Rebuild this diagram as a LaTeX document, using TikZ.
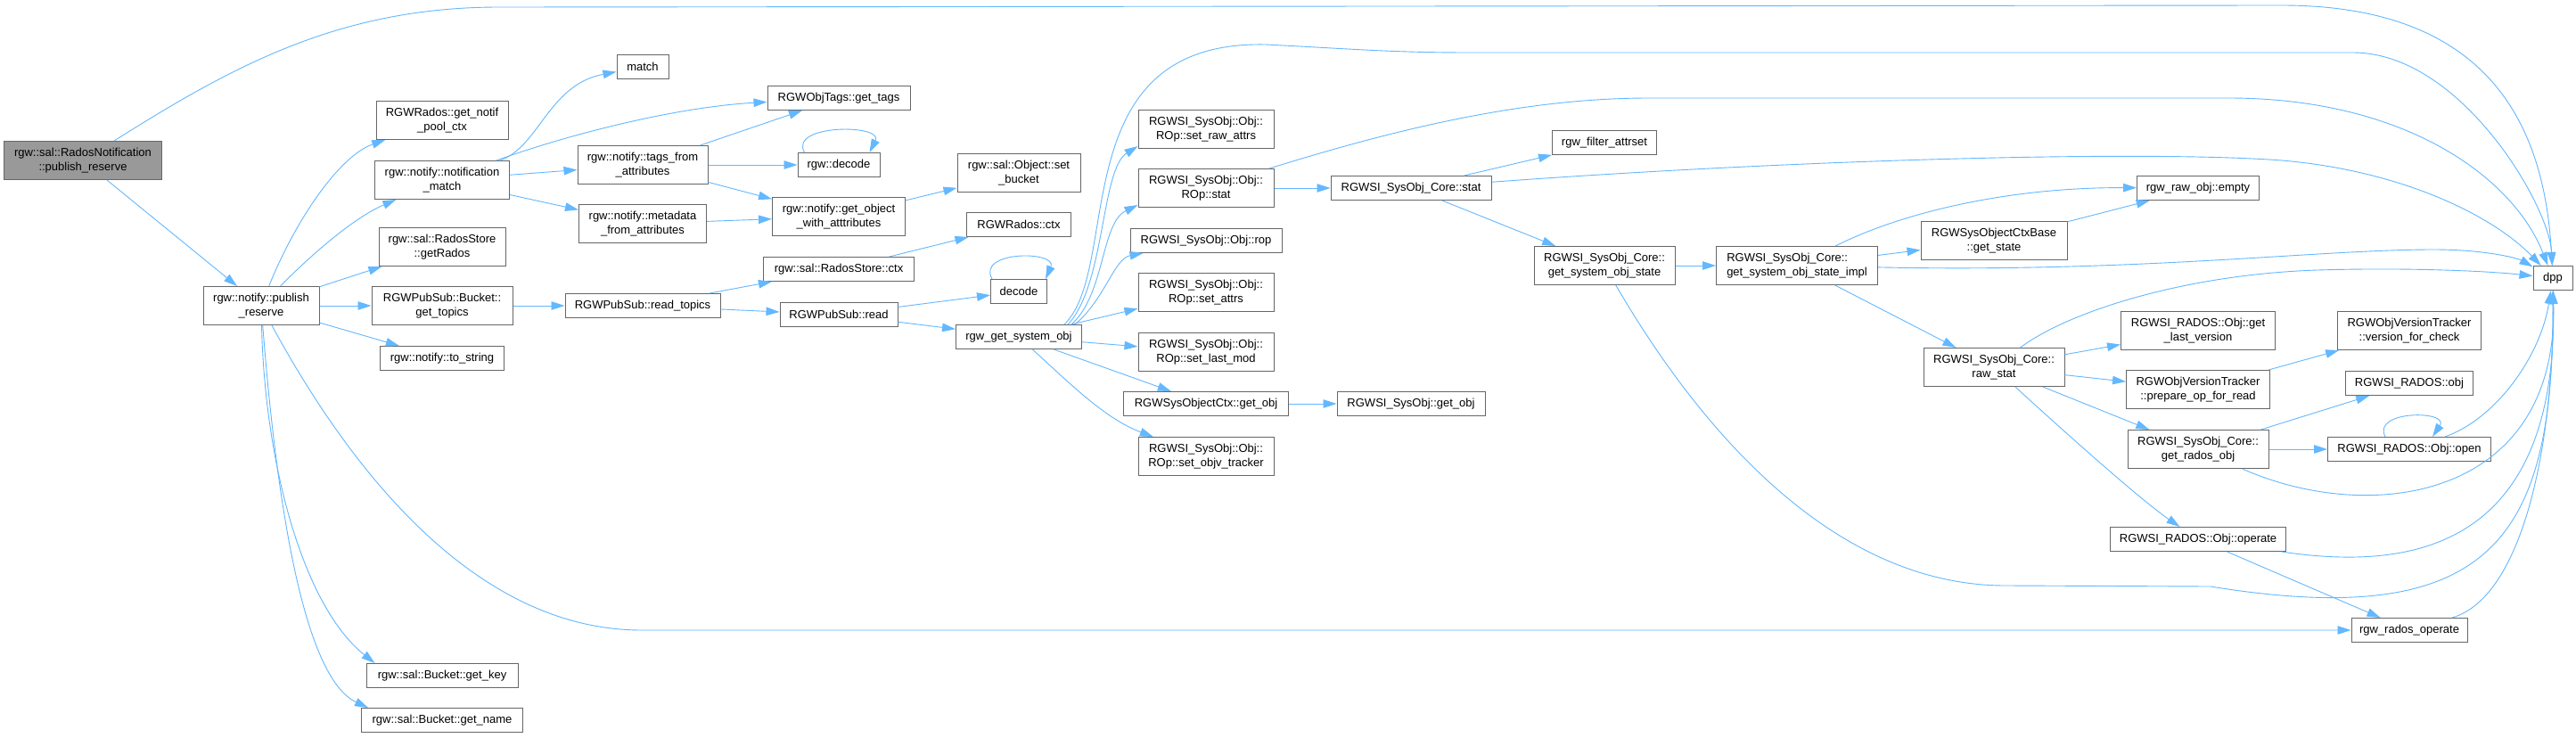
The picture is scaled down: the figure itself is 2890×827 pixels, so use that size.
\documentclass[tikz,border=0pt]{standalone}
\usepackage{fontspec}
\setmainfont{Liberation Sans}
\usetikzlibrary{arrows.meta}
\definecolor{edgeblue}{HTML}{63B8FF}
\definecolor{boxgray}{HTML}{666666}
\definecolor{mainfill}{HTML}{999999}

\begin{document}
\begin{tikzpicture}[x=1pt, y=-1pt,
  fn/.style={draw=boxgray, line width=1pt, fill=white, font=\fontsize{13}{16}\selectfont,
    inner xsep=2pt, inner ysep=0pt, minimum height=27pt, align=center},
  fn2/.style={fn, minimum height=43pt},
  edge/.style={draw=edgeblue, line width=0.9pt, -{Triangle[length=15pt, width=9.5pt]}}]
  \useasboundingbox (0,0) rectangle (2890,827);
  \fill[white] (0,0) rectangle (2890,827);

  % Caller
  \node[fn2, fill=mainfill, minimum width=177pt] (main) at (93,180) {rgw::sal::RadosNotification\\::publish\_reserve};
  \node[fn2, minimum width=130pt] (pubres) at (293,343) {rgw::notify::publish\\\_reserve};

  % Column 2
  \node[fn2, minimum width=148pt] (notifpool) at (496,135) {RGWRados::get\_notif\\\_pool\_ctx};
  \node[fn2, minimum width=151pt] (notifmatch) at (496,202) {rgw::notify::notification\\\_match};
  \node[fn2, minimum width=142pt] (getrados) at (496,277) {rgw::sal::RadosStore\\::getRados};
  \node[fn2, minimum width=158pt] (gettopics) at (496,343) {RGWPubSub::Bucket::\\get\_topics};
  \node[fn, minimum width=139pt] (tostring) at (496,402) {rgw::notify::to\_string};
  \node[fn, minimum width=170pt] (getkey) at (496,758) {rgw::sal::Bucket::get\_key};
  \node[fn, minimum width=181pt] (getname) at (496,808) {rgw::sal::Bucket::get\_name};

  % Column 3
  \node[fn, minimum width=58pt] (match) at (721,75) {match};
  \node[fn2, minimum width=146pt] (tagsfrom) at (721,185) {rgw::notify::tags\_from\\\_attributes};
  \node[fn2, minimum width=143pt] (metafrom) at (721,251) {rgw::notify::metadata\\\_from\_attributes};
  \node[fn, minimum width=174pt] (readtopics) at (721,343) {RGWPubSub::read\_topics};

  % Column 4
  \node[fn, minimum width=160pt] (gettags) at (941,110) {RGWObjTags::get\_tags};
  \node[fn, minimum width=92pt] (rgwdecode) at (941,185) {rgw::decode};
  \node[fn2, minimum width=149pt] (getobjattr) at (941,243) {rgw::notify::get\_object\\\_with\_atttributes};
  \node[fn, minimum width=169pt] (storectx) at (941,302) {rgw::sal::RadosStore::ctx};
  \node[fn, minimum width=132pt] (pubsubread) at (941,353) {RGWPubSub::read};

  % Column 5
  \node[fn2, minimum width=138pt] (setbucket) at (1143,194) {rgw::sal::Object::set\\\_bucket};
  \node[fn, minimum width=117pt] (radosctx) at (1143,252) {RGWRados::ctx};
  \node[fn, minimum width=63pt] (decode) at (1143,327) {decode};
  \node[fn, minimum width=141pt] (getsysobj) at (1143,378) {rgw\_get\_system\_obj};

  % Column 6
  \node[fn2, minimum width=152pt] (setrawattrs) at (1353,145) {RGWSI\_SysObj::Obj::\\ROp::set\_raw\_attrs};
  \node[fn2, minimum width=152pt] (ropstat) at (1353,211) {RGWSI\_SysObj::Obj::\\ROp::stat};
  \node[fn, minimum width=170pt] (rop) at (1353,270) {RGWSI\_SysObj::Obj::rop};
  \node[fn2, minimum width=152pt] (setattrs) at (1353,328) {RGWSI\_SysObj::Obj::\\ROp::set\_attrs};
  \node[fn2, minimum width=152pt] (setlastmod) at (1353,395) {RGWSI\_SysObj::Obj::\\ROp::set\_last\_mod};
  \node[fn, minimum width=185pt] (ctxgetobj) at (1353,453) {RGWSysObjectCtx::get\_obj};
  \node[fn2, minimum width=152pt] (setobjv) at (1353,512) {RGWSI\_SysObj::Obj::\\ROp::set\_objv\_tracker};

  % Column 7 and 8
  \node[fn, minimum width=180pt] (corestat) at (1583,211) {RGWSI\_SysObj\_Core::stat};
  \node[fn, minimum width=166pt] (sysobjgetobj) at (1583,453) {RGWSI\_SysObj::get\_obj};
  \node[fn, minimum width=117pt] (filterattr) at (1800,160) {rgw\_filter\_attrset};
  \node[fn2, minimum width=158pt] (getstate) at (1800,298) {RGWSI\_SysObj\_Core::\\get\_system\_obj\_state};

  % Column 9 and 10
  \node[fn2, minimum width=181pt, align=left] (getstateimpl) at (2016,298) {RGWSI\_SysObj\_Core::\\get\_system\_obj\_state\_impl};
  \node[fn2, minimum width=164pt] (ctxbase) at (2237,270) {RGWSysObjectCtxBase\\::get\_state};
  \node[fn2, minimum width=158pt] (rawstat) at (2237,412) {RGWSI\_SysObj\_Core::\\raw\_stat};

  % Column 11
  \node[fn, minimum width=137pt] (rawempty) at (2466,211) {rgw\_raw\_obj::empty};
  \node[fn2, minimum width=173pt] (lastver) at (2466,371) {RGWSI\_RADOS::Obj::get\\\_last\_version};
  \node[fn2, minimum width=161pt] (prepop) at (2466,437) {RGWObjVersionTracker\\::prepare\_op\_for\_read};
  \node[fn2, minimum width=158pt] (getradosobj) at (2466,504) {RGWSI\_SysObj\_Core::\\get\_rados\_obj};
  \node[fn, minimum width=197pt] (operate) at (2466,605) {RGWSI\_RADOS::Obj::operate};

  % Column 12 and 13
  \node[fn2, minimum width=161pt] (vercheck) at (2703,371) {RGWObjVersionTracker\\::version\_for\_check};
  \node[fn, minimum width=143pt] (radosobj) at (2703,430) {RGWSI\_RADOS::obj};
  \node[fn, minimum width=183pt] (objopen) at (2703,504) {RGWSI\_RADOS::Obj::open};
  \node[fn, minimum width=130pt] (radosop) at (2703,707) {rgw\_rados\_operate};
  \node[fn, minimum width=44pt] (dpp) at (2864,312) {dpp};

  % Calls from the caller
  \draw[edge] (main) .. controls (260,75) and (380,8) .. (560,8) -- (2560,6) .. controls (2800,6) and (2855,150) .. (dpp);
  \draw[edge] (main) -- (pubres);

  % Calls from publish_reserve
  \draw[edge] (pubres) .. controls (330,250) and (380,175) .. (notifpool);
  \draw[edge] (pubres) .. controls (345,290) and (395,245) .. (notifmatch);
  \draw[edge] (pubres) -- (getrados);
  \draw[edge] (pubres) -- (gettopics);
  \draw[edge] (pubres) -- (tostring);
  \draw[edge] (pubres) .. controls (297,520) and (340,680) .. ([xshift=10pt]getkey.north west);
  \draw[edge] (pubres) .. controls (310,560) and (340,760) .. ([xshift=8pt]getname.north west);
  \draw[edge] (pubres) .. controls (400,540) and (540,707) .. (720,707) -- (radosop);

  % notification_match
  \draw[edge] (notifmatch) .. controls (605,165) and (615,95) .. (match);
  \draw[edge] (notifmatch) .. controls (640,150) and (760,120) .. (gettags);
  \draw[edge] (notifmatch) -- (tagsfrom);
  \draw[edge] (notifmatch) -- (metafrom);
  \draw[edge] (tagsfrom) -- (gettags);
  \draw[edge] (tagsfrom) -- (rgwdecode);
  \draw[edge] (tagsfrom) -- (getobjattr);
  \draw[edge] (metafrom) -- (getobjattr);
  \draw[edge] ([xshift=8pt]rgwdecode.north west) .. controls +(-18,-32) and +(16,-32) .. ([xshift=-12pt]rgwdecode.north east);
  \draw[edge] (getobjattr) -- (setbucket);

  % read_topics
  \draw[edge] (gettopics) -- (readtopics);
  \draw[edge] (readtopics) -- (storectx);
  \draw[edge] (readtopics) -- (pubsubread);
  \draw[edge] (storectx) -- (radosctx);
  \draw[edge] (pubsubread) -- (decode);
  \draw[edge] (pubsubread) -- (getsysobj);
  \draw[edge] ([xshift=2pt]decode.north west) .. controls +(-18,-32) and +(14,-32) .. ([xshift=-2pt]decode.north east);

  % rgw_get_system_obj
  \draw[edge] ([xshift=-20pt]getsysobj.north east) .. controls (1260,300) and (1190,45) .. (1420,50) .. controls (1520,55) and (1560,59) .. (1650,59) -- (2640,59) .. controls (2760,59) and (2860,230) .. (dpp);
  \draw[edge] ([xshift=-16pt]getsysobj.north east) .. controls (1240,320) and (1235,190) .. ([yshift=3pt]setrawattrs.south west);
  \draw[edge] ([xshift=-12pt]getsysobj.north east) .. controls (1240,330) and (1235,250) .. ([yshift=3pt]ropstat.south west);
  \draw[edge] ([xshift=-8pt]getsysobj.north east) .. controls (1240,335) and (1250,290) .. ([xshift=15pt]rop.south west);
  \draw[edge] (getsysobj) -- (setattrs);
  \draw[edge] (getsysobj) -- (setlastmod);
  \draw[edge] (getsysobj) -- (ctxgetobj);
  \draw[edge] (getsysobj) .. controls (1200,430) and (1240,470) .. (setobjv);
  \draw[edge] (ctxgetobj) -- (sysobjgetobj);

  % stat chain
  \draw[edge] (ropstat) -- (corestat);
  \draw[edge] (ropstat) .. controls (1550,150) and (1700,110) .. (1850,110) -- (2500,110) .. controls (2700,110) and (2820,200) .. (dpp);
  \draw[edge] (corestat) -- (filterattr);
  \draw[edge] (corestat) .. controls (2000,180) and (2400,168) .. (2560,180) .. controls (2700,192) and (2800,245) .. (dpp);
  \draw[edge] (corestat) -- (getstate);
  \draw[edge] (getstate) -- (getstateimpl);
  \draw[edge] (getstate) .. controls (1900,470) and (2050,657) .. (2250,657) -- (2480,658) .. controls (2800,710) and (2865,600) .. (dpp);

  % get_system_obj_state_impl
  \draw[edge] (getstateimpl) .. controls (2130,240) and (2250,210) .. (rawempty);
  \draw[edge] (getstateimpl) -- (ctxbase);
  \draw[edge] (getstateimpl) .. controls (2400,306) and (2600,280) .. (2730,280) .. controls (2790,280) and (2825,290) .. (dpp);
  \draw[edge] (getstateimpl) -- (rawstat);
  \draw[edge] (ctxbase) -- (rawempty);

  % raw_stat
  \draw[edge] (rawstat) .. controls (2320,350) and (2450,308) .. (2600,303) .. controls (2700,300) and (2790,304) .. (dpp);
  \draw[edge] (rawstat) -- (lastver);
  \draw[edge] (rawstat) -- (prepop);
  \draw[edge] (rawstat) -- (getradosobj);
  \draw[edge] (rawstat) .. controls (2300,470) and (2400,560) .. (operate);
  \draw[edge] (prepop) -- (vercheck);

  % rados calls
  \draw[edge] (getradosobj) -- (radosobj);
  \draw[edge] (getradosobj) -- (objopen);
  \draw[edge] (getradosobj) .. controls (2660,590) and (2870,560) .. (dpp);
  \draw[edge] ([xshift=-27pt]objopen.north) .. controls +(-16,-30) and +(20,-30) .. ([xshift=26pt]objopen.north);
  \draw[edge] (objopen) .. controls (2800,470) and (2850,400) .. (dpp);
  \draw[edge] (operate) .. controls (2700,640) and (2870,620) .. (dpp);
  \draw[edge] (operate) -- (radosop);
  \draw[edge] (radosop) .. controls (2830,670) and (2865,500) .. (dpp);
\end{tikzpicture}
\end{document}
